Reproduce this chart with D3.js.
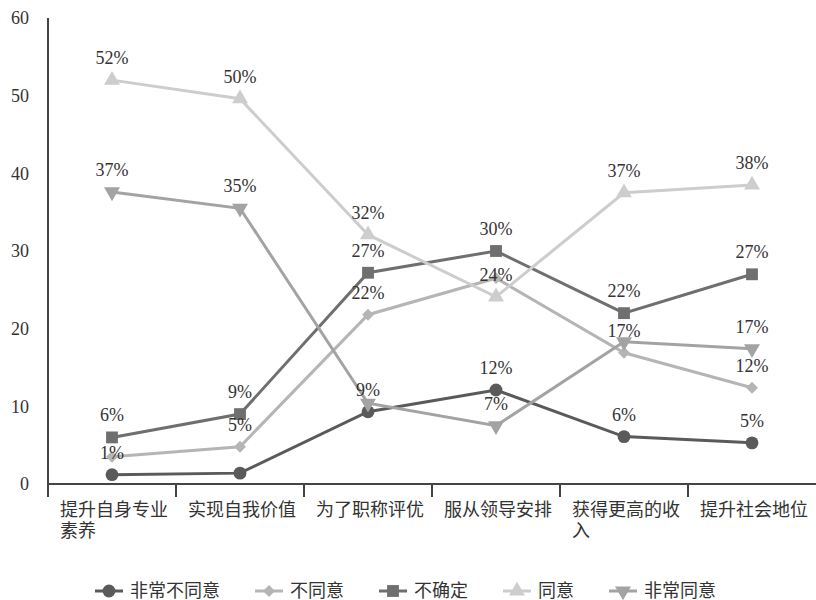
<!DOCTYPE html>
<html>
<head>
  <meta charset="utf-8">
  <title>Line Chart</title>
  <script src="https://d3js.org/d3.v7.min.js"></script>
  <style>
    body { margin: 0; background: #fff; }
    text { font-family: "Liberation Serif", "Noto Sans CJK SC", serif; }
    .axis text { fill: #333; font-size: 18px; }
    .cat text { fill: #333; font-size: 18px; }
    .label { fill: #333; font-size: 18px; }
    .legend text { fill: #333; font-size: 18px; }
  </style>
</head>
<body>
<script>
// categories and series
var categories = ['提升自身专业素养', '实现自我价值', '为了职称评优', '服从领导安排', '获得更高的收入', '提升社会地位'];
var seriesNames = ['非常不同意', '不同意', '不确定', '同意', '非常同意'];

var veryDisagree = [1.2, 1.4, 9.3, 12.1, 6.1, 5.3];
var disagree     = [3.5, 4.8, 21.8, 26.5, 16.9, 12.4];
var unsure       = [6.0, 9.0, 27.2, 30.0, 22.0, 27.0];
var agree        = [52.0, 49.6, 32.1, 24.1, 37.5, 38.5];
var veryAgree    = [37.6, 35.5, 10.4, 7.5, 18.3, 17.4];

// data labels shown in the picture (null = no label)
var veryDisagreeLabels = ['1%', null, '9%', '12%', '6%', '5%'];
var disagreeLabels     = [null, '5%', '22%', null, '17%', '12%'];
var unsureLabels       = ['6%', '9%', '27%', '30%', '22%', '27%'];
var agreeLabels        = ['52%', '50%', '32%', '24%', '37%', '38%'];
var veryAgreeLabels    = ['37%', '35%', null, '7%', null, '17%'];

var yTicks = [0, 10, 20, 30, 40, 50, 60];

var series = [
  { name: seriesNames[0], values: veryDisagree, labels: veryDisagreeLabels, color: '#5a5a5a', symbol: d3.symbolCircle, size: 130, rotate: 0 },
  { name: seriesNames[1], values: disagree, labels: disagreeLabels, color: '#b5b5b5', symbol: d3.symbolDiamond2, size: 90, rotate: 0 },
  { name: seriesNames[2], values: unsure, labels: unsureLabels, color: '#6f6f6f', symbol: d3.symbolSquare, size: 140, rotate: 0 },
  { name: seriesNames[3], values: agree, labels: agreeLabels, color: '#cdcdcd', symbol: d3.symbolTriangle, size: 110, rotate: 0 },
  { name: seriesNames[4], values: veryAgree, labels: veryAgreeLabels, color: '#a3a3a3', symbol: d3.symbolTriangle, size: 110, rotate: 180 }
];

var FONT = '"Liberation Serif", "Noto Sans CJK SC", serif';
var W = 816, H = 600;
var LEFT = 48, RIGHT = 816, TOP = 18, BOTTOM = 484;

var svg = d3.select('body').append('svg')
  .attr('width', W)
  .attr('height', H);

var x = d3.scaleBand().domain(categories).range([LEFT, RIGHT]).padding(0);
var y = d3.scaleLinear().domain([0, 60]).range([BOTTOM, TOP]);

// y axis: labels only, line drawn separately
var yAxis = svg.append('g')
  .attr('class', 'axis')
  .attr('transform', 'translate(' + LEFT + ',0)')
  .call(d3.axisLeft(y).tickValues(yTicks).tickSize(0).tickPadding(19));
yAxis.select('.domain').remove();
yAxis.attr('font-family', FONT).attr('font-size', 18);
yAxis.selectAll('text').style('font-family', FONT);

var axisColor = '#444';
svg.append('line')
  .attr('x1', LEFT).attr('x2', LEFT)
  .attr('y1', y(60)).attr('y2', BOTTOM + 13)
  .attr('stroke', axisColor).attr('stroke-width', 2);
svg.append('line')
  .attr('x1', LEFT).attr('x2', RIGHT)
  .attr('y1', BOTTOM).attr('y2', BOTTOM)
  .attr('stroke', axisColor).attr('stroke-width', 2);

// tick marks between categories
svg.append('g').selectAll('line')
  .data(categories.slice(1))
  .join('line')
  .attr('x1', function(d) { return x(d); })
  .attr('x2', function(d) { return x(d); })
  .attr('y1', BOTTOM).attr('y2', BOTTOM + 13)
  .attr('stroke', axisColor).attr('stroke-width', 2);

// category labels, wrapped to the band width
var perLine = 6;
var catG = svg.append('g').attr('class', 'cat');
categories.forEach(function(c) {
  var lines = [];
  for (var i = 0; i < c.length; i += perLine) lines.push(c.slice(i, i + perLine));
  var t = catG.append('text')
    .attr('x', x(c) + 12)
    .attr('y', BOTTOM + 32);
  lines.forEach(function(l, i) {
    t.append('tspan')
      .attr('x', x(c) + 12)
      .attr('dy', i === 0 ? 0 : 21)
      .text(l);
  });
});

var cx = function(i) { return x(categories[i]) + x.bandwidth() / 2; };

var line = d3.line()
  .x(function(d, i) { return cx(i); })
  .y(function(d) { return y(d); });

series.forEach(function(s) {
  var g = svg.append('g');
  g.append('path')
    .datum(s.values)
    .attr('d', line)
    .attr('fill', 'none')
    .attr('stroke', s.color)
    .attr('stroke-width', 3);

  g.selectAll('path.mark')
    .data(s.values)
    .join('path')
    .attr('class', 'mark')
    .attr('d', d3.symbol().type(s.symbol).size(s.size))
    .attr('transform', function(d, i) {
      return 'translate(' + cx(i) + ',' + y(d) + ') rotate(' + s.rotate + ')';
    })
    .attr('fill', s.color);
});

// data labels
series.forEach(function(s) {
  svg.append('g').selectAll('text')
    .data(s.values.map(function(v, i) { return { v: v, i: i, t: s.labels[i] }; })
      .filter(function(d) { return d.t; }))
    .join('text')
    .attr('class', 'label')
    .attr('text-anchor', 'middle')
    .attr('x', function(d) { return cx(d.i); })
    .attr('y', function(d) { return y(d.v) - 16; })
    .text(function(d) { return d.t; });
});

// legend
var legend = svg.append('g').attr('class', 'legend');
var lx = 95, ly = 591;
series.forEach(function(s) {
  var item = legend.append('g').attr('transform', 'translate(' + lx + ',' + ly + ')');
  item.append('line')
    .attr('x1', 0).attr('x2', 28)
    .attr('stroke', s.color).attr('stroke-width', 3);
  item.append('path')
    .attr('d', d3.symbol().type(s.symbol).size(s.size))
    .attr('transform', 'translate(14,0) rotate(' + s.rotate + ')')
    .attr('fill', s.color);
  var t = item.append('text')
    .attr('x', 35)
    .attr('dy', '0.35em')
    .text(s.name);
  lx += 35 + t.node().getComputedTextLength() + 35;
});
</script>
</body>
</html>
